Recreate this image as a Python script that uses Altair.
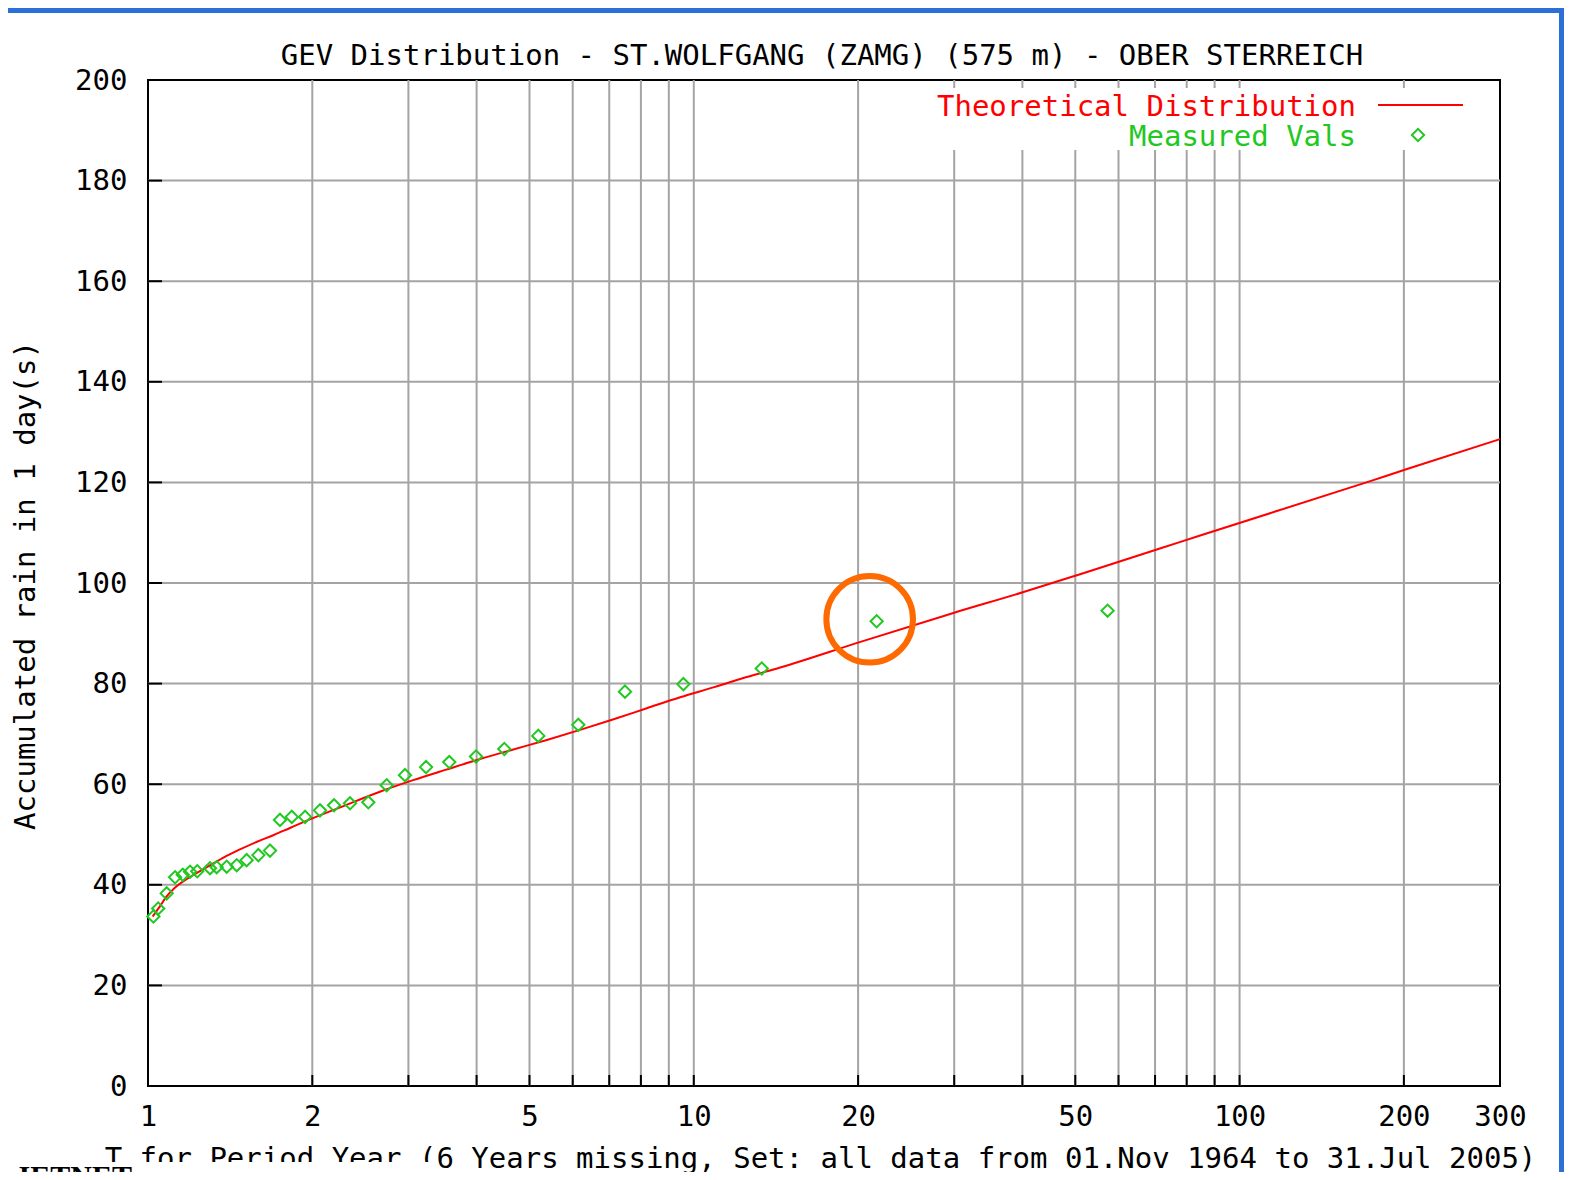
import altair as alt
import pandas as pd

# ---- data ----
T_MEAS = [1.023, 1.044, 1.082, 1.121, 1.158, 1.194, 1.231, 1.299, 1.336, 1.394,
          1.454, 1.516, 1.593, 1.673, 1.745, 1.834, 1.940, 2.066, 2.192, 2.345,
          2.533, 2.737, 2.957, 3.232, 3.565, 3.990, 4.496, 5.189, 6.143, 7.48,
          9.57, 13.32, 21.63, 57.3]
Y_MEAS = [33.7, 35.3, 38.3, 41.5, 42.0, 42.6, 42.7, 43.3, 43.5, 43.6,
          43.9, 44.9, 45.9, 46.8, 52.9, 53.5, 53.5, 54.8, 55.8, 56.2,
          56.4, 59.8, 61.8, 63.4, 64.4, 65.5, 67.0, 69.6, 71.8, 78.4,
          79.9, 83.0, 92.4, 94.5]

T_FIT = [1.02, 1.05, 1.08, 1.12, 1.18, 1.25, 1.32, 1.39, 1.47, 1.58, 1.70, 1.82,
         1.95, 2.25, 2.66, 3.06, 3.52, 4.06, 4.67, 5.38, 6.19, 7.13, 8.20, 9.44,
         10.9, 12.5, 14.4, 20.2, 29.8, 40.2, 51.2, 71.2, 84.4, 173, 202, 300]
Y_FIT = [33.7, 35.6, 37.6, 39.4, 41.2, 42.8, 44.3, 45.7, 47.0, 48.5, 49.9, 51.3,
         52.7, 55.4, 58.5, 60.8, 62.9, 65.0, 66.9, 68.8, 70.8, 72.9, 75.1, 77.3,
         79.3, 81.3, 83.2, 88.3, 94.0, 98.2, 101.8, 106.8, 109.4, 120.2, 122.6, 128.6]

X_GRID = [2, 3, 4, 5, 6, 7, 8, 9, 10, 20, 30, 40, 50, 60, 70, 80, 90, 100, 200]
Y_GRID = [20, 40, 60, 80, 100, 120, 140, 160, 180]
X_LABELS = [1, 2, 5, 10, 20, 50, 100, 200, 300]
Y_LABELS = [0, 20, 40, 60, 80, 100, 120, 140, 160, 180, 200]

CIRCLE_T = [21.0]
CIRCLE_Y = [92.8]

TITLE = "GEV Distribution - ST.WOLFGANG (ZAMG) (575 m) - OBER STERREICH"
X_TITLE = "T for Period Year (6 Years missing, Set: all data from 01.Nov 1964 to 31.Jul 2005)"
Y_TITLE = "Accumulated rain in 1 day(s)"
LEG_FIT = "Theoretical Distribution"
LEG_MEAS = "Measured Vals"
FOOT = "IETNET"

# ---- styling ----
W, H = 1352, 1006
FONT = "DejaVu Sans Mono"
FS = 29
RED = "#ff0000"
GREEN = "#22c822"
GRID = "#a4a4a4"
BLUE = "#2d6fd8"

xs = alt.Scale(type="log", domain=[1, 300], nice=False)
ys = alt.Scale(domain=[0, 200], nice=False)

X_AXIS = alt.Axis(values=X_LABELS, format="d", grid=False, domain=False,
                  ticks=False, tickSize=0, labelPadding=16,
                  labelBaseline="top", labelFont=FONT, labelFontSize=FS,
                  labelColor="black", labelFlush=False, labelOverlap=False,
                  title=X_TITLE, titleFont=FONT, titleFontSize=FS,
                  titleFontWeight="normal", titleColor="black",
                  titleX=672, titleY=72, titleAlign="center",
                  titleBaseline="middle")
Y_AXIS = alt.Axis(values=Y_LABELS, grid=False, domain=False, ticks=False,
                  tickSize=0, labelPadding=21, labelFont=FONT,
                  labelFontSize=FS, labelColor="black", labelOverlap=False,
                  labelFlush=False,
                  title=Y_TITLE, titleFont=FONT, titleFontSize=FS,
                  titleFontWeight="normal", titleColor="black",
                  titleAngle=270, titleX=-123, titleY=505,
                  titleAlign="center", titleBaseline="middle")

meas = pd.DataFrame({"T": T_MEAS, "y": Y_MEAS})
fit = pd.DataFrame({"T": T_FIT, "y": Y_FIT})
xg = pd.DataFrame({"T": X_GRID})
yg = pd.DataFrame({"y": Y_GRID})
circ = pd.DataFrame({"T": CIRCLE_T, "y": CIRCLE_Y})
one = pd.DataFrame({"a": [0]})


def X():
    return alt.X("T:Q", scale=xs, axis=X_AXIS)


def Y():
    return alt.Y("y:Q", scale=ys, axis=Y_AXIS)


xgrid = alt.Chart(xg).mark_rule(color=GRID, strokeWidth=2).encode(x=X())
ygrid = alt.Chart(yg).mark_rule(color=GRID, strokeWidth=2).encode(y=Y())

xticks = alt.Chart(xg).mark_rule(color="black", strokeWidth=2).encode(
    x=X(), y=alt.value(H), y2=alt.value(H - 11))
yticks = alt.Chart(yg).mark_rule(color="black", strokeWidth=2).encode(
    y=Y(), x=alt.value(0), x2=alt.value(14))

legend_bg = alt.Chart(one).mark_rect(fill="white").encode(
    x=alt.value(757), x2=alt.value(1327), y=alt.value(8), y2=alt.value(70))

line = alt.Chart(fit).mark_line(color=RED, strokeWidth=2,
                                interpolate="monotone").encode(x=X(), y=Y())

points = alt.Chart(meas).mark_point(shape="diamond", filled=False, color=GREEN,
                                    strokeWidth=2, size=150, opacity=1).encode(
    x=X(), y=Y())

circle = alt.Chart(circ).mark_point(shape="circle", filled=False, color="#ff6a00",
                                    strokeWidth=6, size=7500, opacity=1).encode(
    x=X(), y=Y())

title = alt.Chart(one).mark_text(font=FONT, fontSize=FS, color="black",
                                 align="center", baseline="middle").encode(
    x=alt.value(674), y=alt.value(-24), text=alt.value(TITLE))

leg1 = alt.Chart(one).mark_text(font=FONT, fontSize=FS, color=RED,
                                align="right", baseline="middle").encode(
    x=alt.value(1208), y=alt.value(27), text=alt.value(LEG_FIT))
leg2 = alt.Chart(one).mark_text(font=FONT, fontSize=FS, color=GREEN,
                                align="right", baseline="middle").encode(
    x=alt.value(1208), y=alt.value(57), text=alt.value(LEG_MEAS))
leg_line = alt.Chart(one).mark_rule(color=RED, strokeWidth=2).encode(
    x=alt.value(1230), x2=alt.value(1315), y=alt.value(25))
leg_pt = alt.Chart(one).mark_point(shape="diamond", filled=False, color=GREEN,
                                   strokeWidth=2, size=150, opacity=1).encode(
    x=alt.value(1270), y=alt.value(55))

cover = alt.Chart(one).mark_rect(fill="white").encode(
    x=alt.value(-160), x2=alt.value(284), y=alt.value(1082), y2=alt.value(1110))
foot = alt.Chart(one).mark_text(font="Liberation Serif", fontSize=30,
                                fontWeight="bold", color="black", align="right",
                                baseline="alphabetic").encode(
    x=alt.value(-16), y=alt.value(1106), text=alt.value(FOOT))

# slide frame (blue bands at the canvas edges)
band_top = alt.Chart(one).mark_rect(fill=BLUE).encode(
    x=alt.value(-140), x2=alt.value(1416), y=alt.value(-72), y2=alt.value(-67))
band_right = alt.Chart(one).mark_rect(fill=BLUE).encode(
    x=alt.value(1411), x2=alt.value(1416), y=alt.value(-72), y2=alt.value(1092))

chart = alt.layer(
    xgrid, ygrid, legend_bg, line, points, circle, xticks, yticks,
    title, leg1, leg2, leg_line, leg_pt, cover, foot,
    band_top, band_right
).properties(
    width=W, height=H,
    autosize=alt.AutoSizeParams(type="none"),
    padding={"left": 140, "top": 72, "right": 64, "bottom": 86},
    background="white",
).configure_view(stroke="black", strokeWidth=2)

chart.save("out.html", embed_options={"renderer": "svg", "actions": False})
